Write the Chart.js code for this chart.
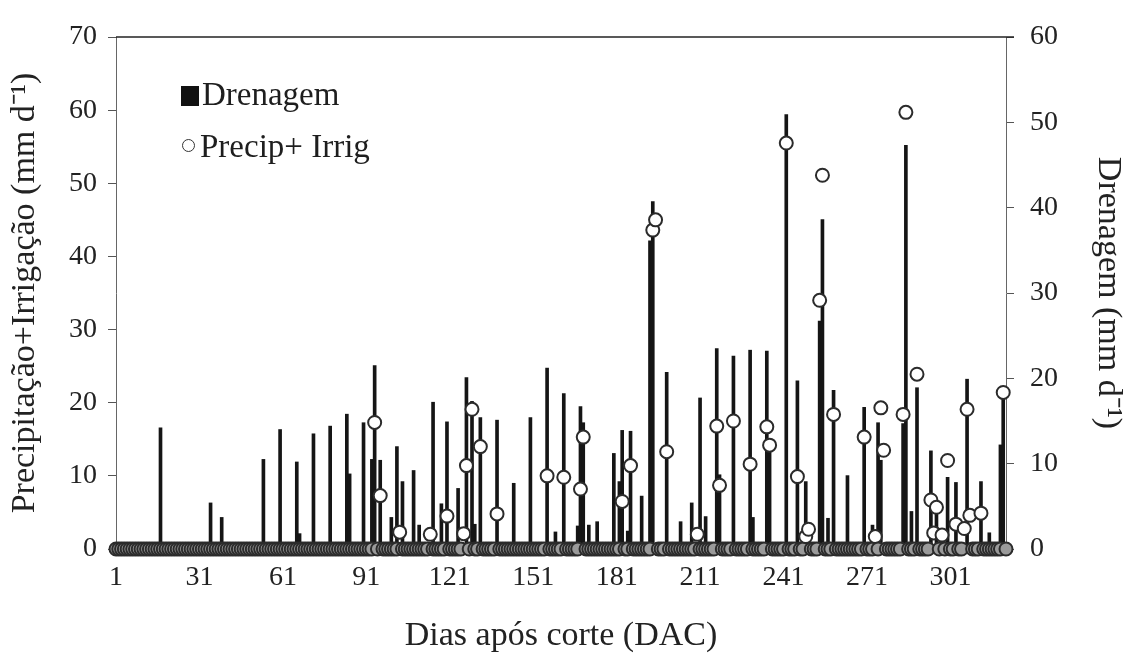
<!DOCTYPE html>
<html lang="pt">
<head>
<meta charset="utf-8">
<title>Drenagem e Precipitação+Irrigação</title>
<script src="https://cdn.jsdelivr.net/npm/chart.js@4.4.1/dist/chart.umd.min.js"></script>
<style>
  html, body { margin: 0; padding: 0; background: #fff; }
  #wrap { position: relative; width: 1133px; height: 662px; }
  #chart { position: absolute; left: 0; top: 0; }
  .leg { position: absolute; font-family: "Liberation Serif", "Times New Roman", serif; font-size: 33px; line-height: 33px; color: #1e1e1e; white-space: nowrap; }
  .leg-box { position: absolute; left: 181px; top: 86px; width: 18px; height: 20px; background: #111; }
  .leg-dot { position: absolute; left: 182px; top: 139px; width: 13px; height: 13px; box-sizing: border-box; border: 1.5px solid #333; border-radius: 50%; background: #fff; }
</style>
</head>
<body>
<div id="wrap">
  <canvas id="chart" width="1133" height="662"></canvas>
  <div class="leg-box"></div>
  <div class="leg" style="left:202px; top:78px;">Drenagem</div>
  <div class="leg-dot"></div>
  <div class="leg" style="left:200px; top:130px;">Precip+ Irrig</div>
</div>
<script>
// days after cutting (DAC), one point per day
const lastDay = 321;
const xTickDays = [1, 31, 61, 91, 121, 151, 181, 211, 241, 271, 301];

// drainage (mm/d, right axis) - only days with drainage
const drenDays = [17, 35, 39, 54, 60, 66, 67, 72, 78, 84, 85, 90, 93, 94, 96, 100, 102, 104, 108, 110,
  115, 118, 120, 124, 127, 129, 130, 132, 138, 144, 150, 156, 159, 162, 167, 168, 169, 171, 174, 180,
  182, 183, 185, 186, 190, 193, 194, 199, 204, 208, 211, 213, 217, 218, 223, 229, 230, 235, 236, 242,
  246, 249, 254, 255, 257, 259, 264, 270, 273, 275, 276, 284, 285, 287, 289, 294, 296, 300, 303, 307,
  312, 315, 319, 320];
const drenValues = [14.2, 5.4, 3.7, 10.5, 14.0, 10.2, 1.8, 13.5, 14.4, 15.8, 8.8, 14.8, 10.5, 21.5, 10.4, 3.7, 12.0, 7.9, 9.2, 2.8,
  17.2, 5.3, 14.9, 7.1, 20.1, 17.3, 2.9, 15.4, 15.1, 7.7, 15.4, 21.2, 2.0, 18.2, 2.7, 16.7, 14.8, 2.8, 3.2, 11.2,
  7.9, 13.9, 2.1, 13.8, 6.2, 36.1, 40.7, 20.7, 3.2, 5.4, 17.7, 3.8, 23.5, 8.7, 22.6, 23.3, 3.7, 23.2, 12.9, 50.9,
  19.7, 7.9, 26.7, 38.6, 3.6, 18.6, 8.6, 16.6, 2.8, 14.8, 10.4, 14.7, 47.3, 4.4, 18.9, 11.5, 5.0, 8.4, 7.8, 19.9,
  7.9, 1.9, 12.2, 17.7];

// precipitation + irrigation (mm/d, left axis) - all other days are 0
const precipDays = [94, 96, 103, 114, 120, 126, 127, 129, 132, 138, 156, 162, 168, 169, 183, 186, 194, 195, 199, 210,
  217, 218, 223, 229, 235, 236, 242, 246, 249, 250, 254, 255, 259, 270, 274, 276, 277, 284, 285, 289,
  294, 295, 296, 298, 300, 303, 306, 307, 308, 312, 320];
const precipValues = [17.3, 7.3, 2.3, 2.0, 4.5, 2.1, 11.4, 19.1, 14.0, 4.8, 10.0, 9.8, 8.2, 15.3, 6.5, 11.4, 43.6, 45.0, 13.3, 2.0,
  16.8, 8.7, 17.5, 11.6, 16.7, 14.2, 55.5, 9.9, 1.7, 2.7, 34.0, 51.1, 18.4, 15.3, 1.7, 19.3, 13.5, 18.4, 59.7, 23.9,
  6.7, 2.2, 5.7, 1.9, 12.1, 3.4, 2.8, 19.1, 4.6, 4.9, 21.4];

const serif = "'Liberation Serif', 'Times New Roman', serif";
const ink = '#222';

const days = Array.from({ length: lastDay }, (_, i) => i + 1);
const drenPoints = drenDays.map((d, i) => ({ x: d, y: drenValues[i] }));
const precipPoints = days.map(d => {
  const k = precipDays.indexOf(d);
  return { x: d, y: k >= 0 ? precipValues[k] : 0 };
});

// top edge of the plot frame
const frameTop = {
  id: 'frameTop',
  afterDraw(chart) {
    const { ctx, chartArea } = chart;
    ctx.save();
    ctx.strokeStyle = '#222';
    ctx.lineWidth = 1.5;
    ctx.beginPath();
    ctx.moveTo(chartArea.left, chartArea.top);
    ctx.lineTo(chartArea.right + 8, chartArea.top);
    ctx.stroke();
    ctx.restore();
  }
};

new Chart(document.getElementById('chart'), {
  type: 'bar',
  data: {
    datasets: [
      {
        type: 'scatter',
        label: 'Precip+ Irrig',
        data: precipPoints,
        yAxisID: 'y',
        order: 0,
        clip: false,
        pointRadius: 6.5,
        pointBorderWidth: 2,
        // the dense row of zero-day circles reads as a grey band in the original
        pointBackgroundColor: c => (c.raw && c.raw.y === 0 ? '#9a9a9a' : '#fff'),
        pointBorderColor: '#2b2b2b'
      },
      {
        type: 'bar',
        label: 'Drenagem',
        data: drenPoints,
        yAxisID: 'y1',
        order: 1,
        backgroundColor: '#151515',
        barThickness: 3
      }
    ]
  },
  options: {
    responsive: false,
    devicePixelRatio: 1,
    animation: false,
    layout: { padding: { top: 37, left: 0, right: 0, bottom: 0 } },
    plugins: {
      legend: { display: false },
      tooltip: { enabled: false }
    },
    scales: {
      x: {
        type: 'linear',
        offset: false,
        min: 1,
        max: lastDay,
        afterBuildTicks: s => { s.ticks = xTickDays.map(v => ({ value: v })); },
        afterFit: s => { s.height = 113; },
        grid: { display: false, drawTicks: false, offset: false },
        border: { display: true, color: '#333', width: 1 },
        ticks: {
          autoSkip: false, maxRotation: 0, minRotation: 0, padding: 12,
          color: ink, font: { family: serif, size: 28 },
          callback: v => String(v)
        },
        title: {
          display: true, text: 'Dias após corte (DAC)', color: ink,
          font: { family: serif, size: 34 }, padding: { top: 0, bottom: 6 }
        }
      },
      y: {
        position: 'left',
        min: 0, max: 70,
        afterFit: s => { s.width = 116; },
        grid: { drawOnChartArea: false, drawTicks: true, tickLength: 8, color: '#555' },
        border: { display: true, color: '#666', width: 1 },
        ticks: { stepSize: 10, padding: 11, color: ink, font: { family: serif, size: 28 } },
        title: {
          display: true, text: 'Precipitação+Irrigação (mm d⁻¹)', color: ink,
          font: { family: serif, size: 34 }, padding: { top: 5, bottom: 0 }
        }
      },
      y1: {
        position: 'right',
        min: 0, max: 60,
        afterFit: s => { s.width = 127; },
        grid: { drawOnChartArea: false, drawTicks: true, tickLength: 8, color: '#555' },
        border: { display: true, color: '#666', width: 1 },
        ticks: { stepSize: 10, padding: 16, color: ink, font: { family: serif, size: 28 } },
        title: {
          display: true, text: 'Drenagem (mm d⁻¹)', color: ink,
          font: { family: serif, size: 34 }, padding: { top: 5, bottom: 0 }
        }
      }
    }
  },
  plugins: [frameTop]
});
</script>
</body>
</html>
